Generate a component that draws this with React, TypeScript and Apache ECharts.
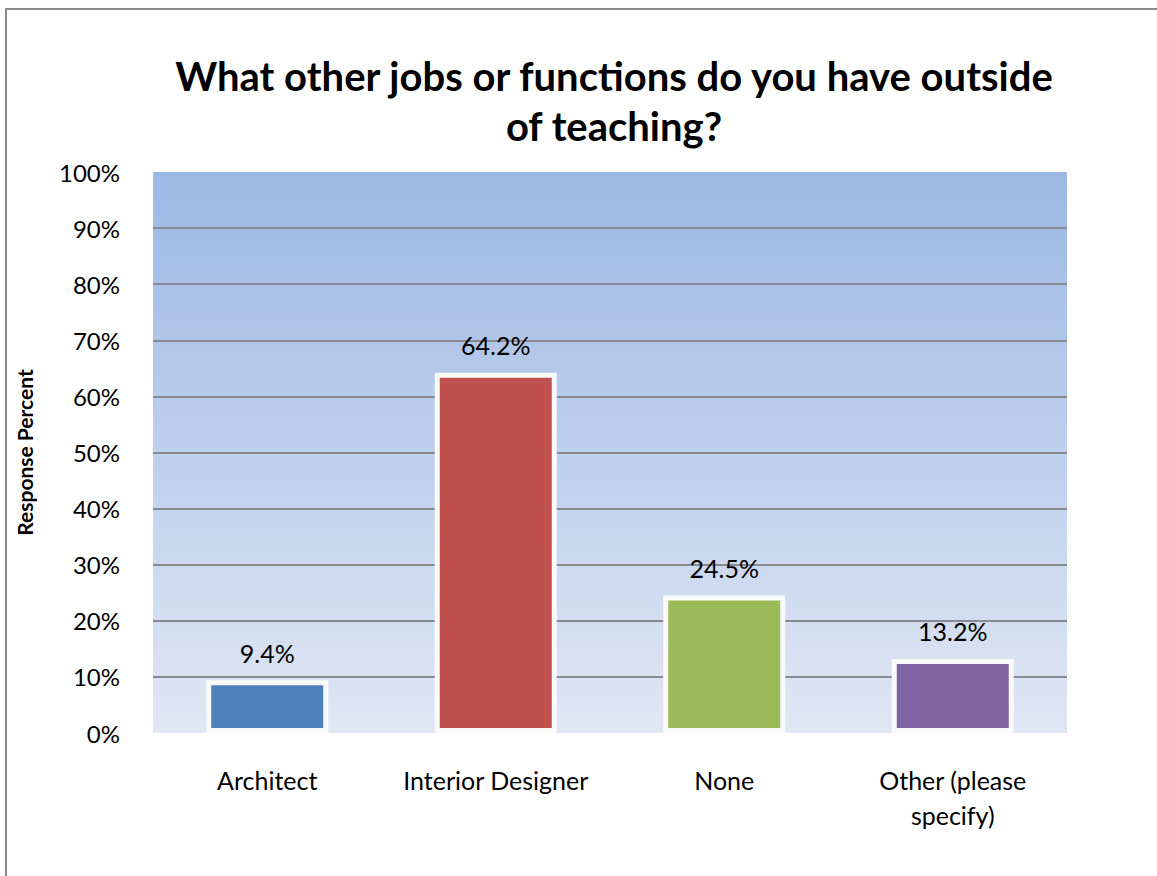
import React, { useEffect, useRef } from "react";
import * as echarts from "echarts";

const categories = ["Architect", "Interior Designer", "None", "Other (please specify)"];
const responsePercent = [9.4, 64.2, 24.5, 13.2];
const barColors = ["#4F81BD", "#C0504D", "#9BBB59", "#8064A2"];
const titleLines = ["What other jobs or functions do you have outside", "of teaching?"];
const yAxisName = "Response Percent";

const FONT = "Lato, 'Open Sans', sans-serif";

function wrapLabel(v: string): string {
  if (v.length <= 18) return v;
  const mid = v.length / 2;
  let best = -1;
  for (let i = 0; i < v.length; i++) {
    if (v[i] === " " && (best < 0 || Math.abs(i - mid) < Math.abs(best - mid))) best = i;
  }
  return best < 0 ? v : v.slice(0, best) + "\n" + v.slice(best + 1);
}

export default function App() {
  const ref = useRef<HTMLDivElement>(null);
  useEffect(() => {
    if (!ref.current) return;
    const chart = echarts.init(ref.current, undefined, { renderer: "svg" });
    chart.setOption({
      animation: false,
      backgroundColor: "#ffffff",
      title: {
        text: titleLines.join("\n"),
        left: 609,
        top: 46,
        textAlign: "center",
        textStyle: {
          fontFamily: FONT,
          fontSize: 40,
          fontWeight: "bold",
          color: "#000",
          lineHeight: 50,
        },
      },
      graphic: [
        {
          type: "rect",
          shape: { x: 6, y: 9, width: 1300, height: 1000 },
          style: { fill: "none", stroke: "#8a8a8a", lineWidth: 2 },
          silent: true,
          z: 100,
        },
      ],
      grid: {
        left: 153,
        right: 90,
        top: 172,
        bottom: 143,
        show: true,
        borderWidth: 0,
        backgroundColor: new echarts.graphic.LinearGradient(0, 0, 0, 1, [
          { offset: 0, color: "#9CB8E4" },
          { offset: 1, color: "#E0E7F4" },
        ]),
      },
      xAxis: {
        type: "category",
        data: categories,
        axisLine: { show: false },
        axisTick: { show: false },
        axisLabel: {
          fontFamily: FONT,
          fontSize: 25,
          color: "#000",
          margin: 29,
          lineHeight: 35,
          interval: 0,
          formatter: (v: string) => wrapLabel(v),
        },
      },
      yAxis: {
        type: "value",
        min: 0,
        max: 100,
        interval: 10,
        name: yAxisName,
        nameLocation: "middle",
        nameRotate: 90,
        nameGap: 118,
        nameTextStyle: {
          fontFamily: FONT,
          fontSize: 21,
          fontWeight: "bold",
          color: "#000",
        },
        axisLine: { show: false },
        axisTick: { show: false },
        axisLabel: {
          fontFamily: FONT,
          fontSize: 24,
          color: "#000",
          margin: 33,
          formatter: (v: number) => v + "%",
        },
        splitLine: {
          show: true,
          showMinLine: false,
          showMaxLine: false,
          lineStyle: { color: "#878A90", width: 2 },
        },
      },
      series: [
        {
          type: "bar",
          data: responsePercent.map((v, i) => ({
            value: v,
            itemStyle: { color: barColors[i] },
          })),
          barWidth: 122,
          itemStyle: { borderColor: "#FAFAFA", borderWidth: 5 },
          label: {
            show: true,
            position: "top",
            distance: 15,
            fontFamily: FONT,
            fontSize: 25,
            color: "#000",
            formatter: (p: any) => p.value.toFixed(1) + "%",
          },
        },
      ],
    });
    return () => chart.dispose();
  }, []);
  return (
    <div
      ref={ref}
      style={{ position: "absolute", left: 0, top: 0, width: 1157, height: 876 }}
    />
  );
}
